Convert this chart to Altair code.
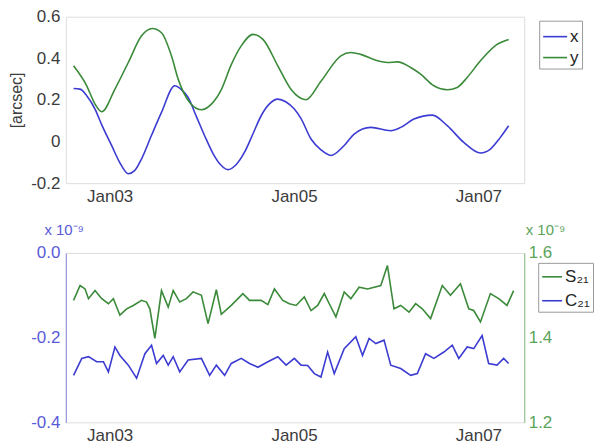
import altair as alt
import pandas as pd

# ---------------- data (day of January, value) ----------------
# top panel: pointing offsets [arcsec]
x_day = [2.608, 2.679, 2.751, 2.841, 2.914, 3.022, 3.108, 3.202, 3.270, 3.346,
         3.454, 3.562, 3.706, 3.778, 3.851, 3.941, 4.030, 4.124, 4.211, 4.283,
         4.373, 4.463, 4.557, 4.643, 4.730, 4.824, 4.914, 5.003, 5.076, 5.184,
         5.292, 5.400, 5.544, 5.652, 5.832, 6.049, 6.157, 6.301, 6.500, 6.662,
         6.841, 7.022, 7.130, 7.238, 7.328]
x_val = [0.255, 0.252, 0.220, 0.156, 0.080, -0.020, -0.100, -0.155, -0.140, -0.083,
         0.030, 0.140, 0.268, 0.250, 0.212, 0.120, 0.028, -0.060, -0.115, -0.135,
         -0.110, -0.051, 0.040, 0.124, 0.180, 0.204, 0.190, 0.156, 0.110, 0.012,
         -0.040, -0.067, -0.019, 0.036, 0.068, 0.052, 0.068, 0.108, 0.127, 0.076,
         -0.004, -0.055, -0.036, 0.020, 0.076]

y_day = [2.608, 2.751, 2.841, 2.914, 3.057, 3.202, 3.346, 3.462, 3.562, 3.670,
         3.743, 3.868, 3.995, 4.103, 4.211, 4.319, 4.427, 4.554, 4.665, 4.824,
         4.968, 5.130, 5.292, 5.508, 5.616, 5.724, 5.905, 6.013, 6.121, 6.265,
         6.373, 6.517, 6.662, 6.770, 6.878, 7.022, 7.202, 7.328]
y_val = [0.364, 0.268, 0.180, 0.143, 0.252, 0.380, 0.508, 0.543, 0.523, 0.412,
         0.300, 0.188, 0.153, 0.180, 0.250, 0.370, 0.460, 0.515, 0.490, 0.364,
         0.250, 0.201, 0.290, 0.412, 0.428, 0.419, 0.388, 0.380, 0.383, 0.356,
         0.324, 0.268, 0.249, 0.260, 0.308, 0.388, 0.467, 0.491]

# bottom panel: S21 (right axis, x 1e-9) and C21 (left axis, x 1e-9)
s21_day = [2.608, 2.679, 2.733, 2.770, 2.841, 2.914, 2.986, 3.040, 3.111, 3.184,
           3.256, 3.346, 3.400, 3.436, 3.490, 3.562, 3.635, 3.689, 3.760, 3.832,
           3.905, 3.995, 4.067, 4.157, 4.211, 4.319, 4.445, 4.517, 4.643, 4.716,
           4.787, 4.878, 4.949, 5.022, 5.111, 5.184, 5.256, 5.328, 5.382, 5.454,
           5.544, 5.616, 5.706, 5.797, 5.941, 6.013, 6.084, 6.157, 6.247, 6.319,
           6.391, 6.481, 6.608, 6.697, 6.805, 6.895, 6.949, 7.022, 7.130, 7.220,
           7.310, 7.382]
s21_val = [1.488, 1.523, 1.515, 1.492, 1.511, 1.492, 1.480, 1.492, 1.453, 1.468,
           1.476, 1.488, 1.484, 1.468, 1.398, 1.511, 1.472, 1.511, 1.484, 1.492,
           1.508, 1.500, 1.433, 1.513, 1.455, 1.476, 1.504, 1.488, 1.488, 1.478,
           1.515, 1.488, 1.480, 1.476, 1.496, 1.464, 1.476, 1.504, 1.480, 1.449,
           1.508, 1.492, 1.519, 1.515, 1.523, 1.570, 1.468, 1.476, 1.460, 1.480,
           1.468, 1.445, 1.523, 1.500, 1.527, 1.468, 1.464, 1.437, 1.504, 1.492,
           1.476, 1.511]

c21_day = [2.608, 2.697, 2.770, 2.859, 2.932, 2.986, 3.057, 3.111, 3.202, 3.292,
           3.382, 3.454, 3.508, 3.581, 3.635, 3.689, 3.760, 3.851, 3.995, 4.084,
           4.157, 4.247, 4.319, 4.427, 4.517, 4.608, 4.716, 4.824, 4.914, 5.003,
           5.076, 5.148, 5.220, 5.292, 5.364, 5.436, 5.544, 5.670, 5.743, 5.814,
           5.887, 5.976, 6.049, 6.157, 6.265, 6.337, 6.427, 6.517, 6.625, 6.716,
           6.787, 6.878, 6.949, 7.040, 7.111, 7.202, 7.274, 7.328]
c21_val = [-0.289, -0.249, -0.245, -0.257, -0.257, -0.281, -0.222, -0.242, -0.265, -0.296,
           -0.238, -0.218, -0.261, -0.242, -0.265, -0.245, -0.281, -0.253, -0.249, -0.289,
           -0.265, -0.289, -0.261, -0.249, -0.261, -0.270, -0.257, -0.245, -0.265, -0.249,
           -0.265, -0.266, -0.285, -0.293, -0.234, -0.285, -0.226, -0.198, -0.242, -0.202,
           -0.214, -0.206, -0.265, -0.273, -0.289, -0.285, -0.238, -0.249, -0.234, -0.218,
           -0.249, -0.222, -0.226, -0.195, -0.261, -0.265, -0.249, -0.261]

x_ticks = [3, 5, 7]
top_y_ticks = [-0.2, 0, 0.2, 0.4, 0.6]
c_ticks = [-0.4, -0.2, 0]
s_ticks = [1.2, 1.4, 1.6]

# ---------------- styling ----------------
BLUE = "#3c3cd2"
GREEN = "#3a8a3a"
BLUE_TXT = "#5a5ad8"
GREEN_TXT = "#5aa55a"
GRAY = "#3c3c3c"
FRAME = "#9a9a9a"
FONT = "Liberation Sans"

df_top = pd.concat([
    pd.DataFrame({"day": x_day, "value": x_val, "series": "x"}),
    pd.DataFrame({"day": y_day, "value": y_val, "series": "y"}),
])
df_s = pd.DataFrame({"day": s21_day, "value": s21_val, "series": "S₂₁"})
df_c = pd.DataFrame({"day": c21_day, "value": c21_val, "series": "C₂₁"})

xscale = alt.Scale(domain=[2.524, 7.497], nice=False, zero=False)


def xaxis():
    return alt.Axis(values=x_ticks, labelExpr="'Jan0' + datum.value", title=None,
                    grid=False, ticks=False, domain=False, labelFontSize=17,
                    labelFont=FONT, labelColor=GRAY, labelPadding=5)


top = alt.Chart(df_top).mark_line(strokeWidth=1.6, interpolate="monotone").encode(
    x=alt.X("day:Q", scale=xscale, axis=xaxis()),
    y=alt.Y("value:Q", scale=alt.Scale(domain=[-0.2, 0.6], nice=False, zero=False),
            axis=alt.Axis(values=top_y_ticks,
                          labelExpr="datum.value == 0 ? '0' : '' + datum.value",
                          title="[arcsec]", titleFontSize=16, titleFont=FONT,
                          titleFontWeight="normal", titleColor=GRAY, titleX=-41,
                          grid=False, ticks=False, domain=False, labelFontSize=17,
                          labelFont=FONT, labelColor=GRAY, labelPadding=6)),
    color=alt.Color("series:N", scale=alt.Scale(domain=["x", "y"], range=[BLUE, GREEN]),
                    legend=alt.Legend(orient="none", legendX=475, legendY=4, title=None,
                                      symbolType="stroke", symbolSize=576,
                                      symbolStrokeWidth=1.6, labelFontSize=17,
                                      labelFont=FONT, labelColor="#222222",
                                      strokeColor=FRAME, fillColor="white",
                                      padding=3, rowPadding=0, labelOffset=2)),
).properties(width=460, height=167)

color_b = alt.Color("series:N",
                    scale=alt.Scale(domain=["S₂₁", "C₂₁"], range=[GREEN, BLUE]),
                    legend=alt.Legend(orient="none", legendX=474, legendY=10, title=None,
                                      symbolType="stroke", symbolSize=400,
                                      symbolStrokeWidth=1.6, labelFontSize=17,
                                      labelFont=FONT, labelColor="#222222",
                                      strokeColor=FRAME, fillColor="white",
                                      padding=3, rowPadding=5, labelOffset=2))

c_layer = alt.Chart(df_c).mark_line(strokeWidth=1.6).encode(
    x=alt.X("day:Q", scale=xscale, axis=xaxis()),
    y=alt.Y("value:Q", scale=alt.Scale(domain=[-0.4, 0], nice=False, zero=False),
            axis=alt.Axis(orient="left", values=c_ticks,
                          labelExpr="datum.value == 0 ? '0.0' : '' + datum.value",
                          title="x 10⁻⁹", titleAngle=0, titleX=-22, titleY=-15,
                          titleAlign="left", titleBaseline="bottom",
                          titleFontSize=15, titleFont=FONT, titleFontWeight="normal",
                          titleColor=BLUE_TXT, grid=False, ticks=False, domain=True,
                          domainColor="#8a8ae0", labelFontSize=17, labelFont=FONT,
                          labelColor=BLUE_TXT, labelPadding=6)),
    color=color_b,
)

s_layer = alt.Chart(df_s).mark_line(strokeWidth=1.6).encode(
    x=alt.X("day:Q", scale=xscale, axis=xaxis()),
    y=alt.Y("value:Q", scale=alt.Scale(domain=[1.2, 1.6], nice=False, zero=False),
            axis=alt.Axis(orient="right", values=s_ticks,
                          labelExpr="'' + datum.value",
                          title="x 10⁻⁹", titleAngle=0, titleX=1, titleY=-15,
                          titleAlign="left", titleBaseline="bottom",
                          titleFontSize=15, titleFont=FONT, titleFontWeight="normal",
                          titleColor=GREEN_TXT, grid=False, ticks=False, domain=True,
                          domainColor="#8ac08a", labelFontSize=17, labelFont=FONT,
                          labelColor=GREEN_TXT, labelPadding=4)),
    color=color_b,
)

bottom = alt.layer(c_layer, s_layer).resolve_scale(y="independent").properties(
    width=460, height=170)

chart = alt.vconcat(top, bottom, spacing=70, bounds="flush").resolve_scale(
    color="independent").resolve_legend(color="independent").properties(
    padding={"left": 0, "top": -2, "right": 0, "bottom": 0}
).configure_view(stroke=FRAME, strokeWidth=1).configure(background="white")

chart.save("out.html", embed_options={"renderer": "svg", "actions": False})
